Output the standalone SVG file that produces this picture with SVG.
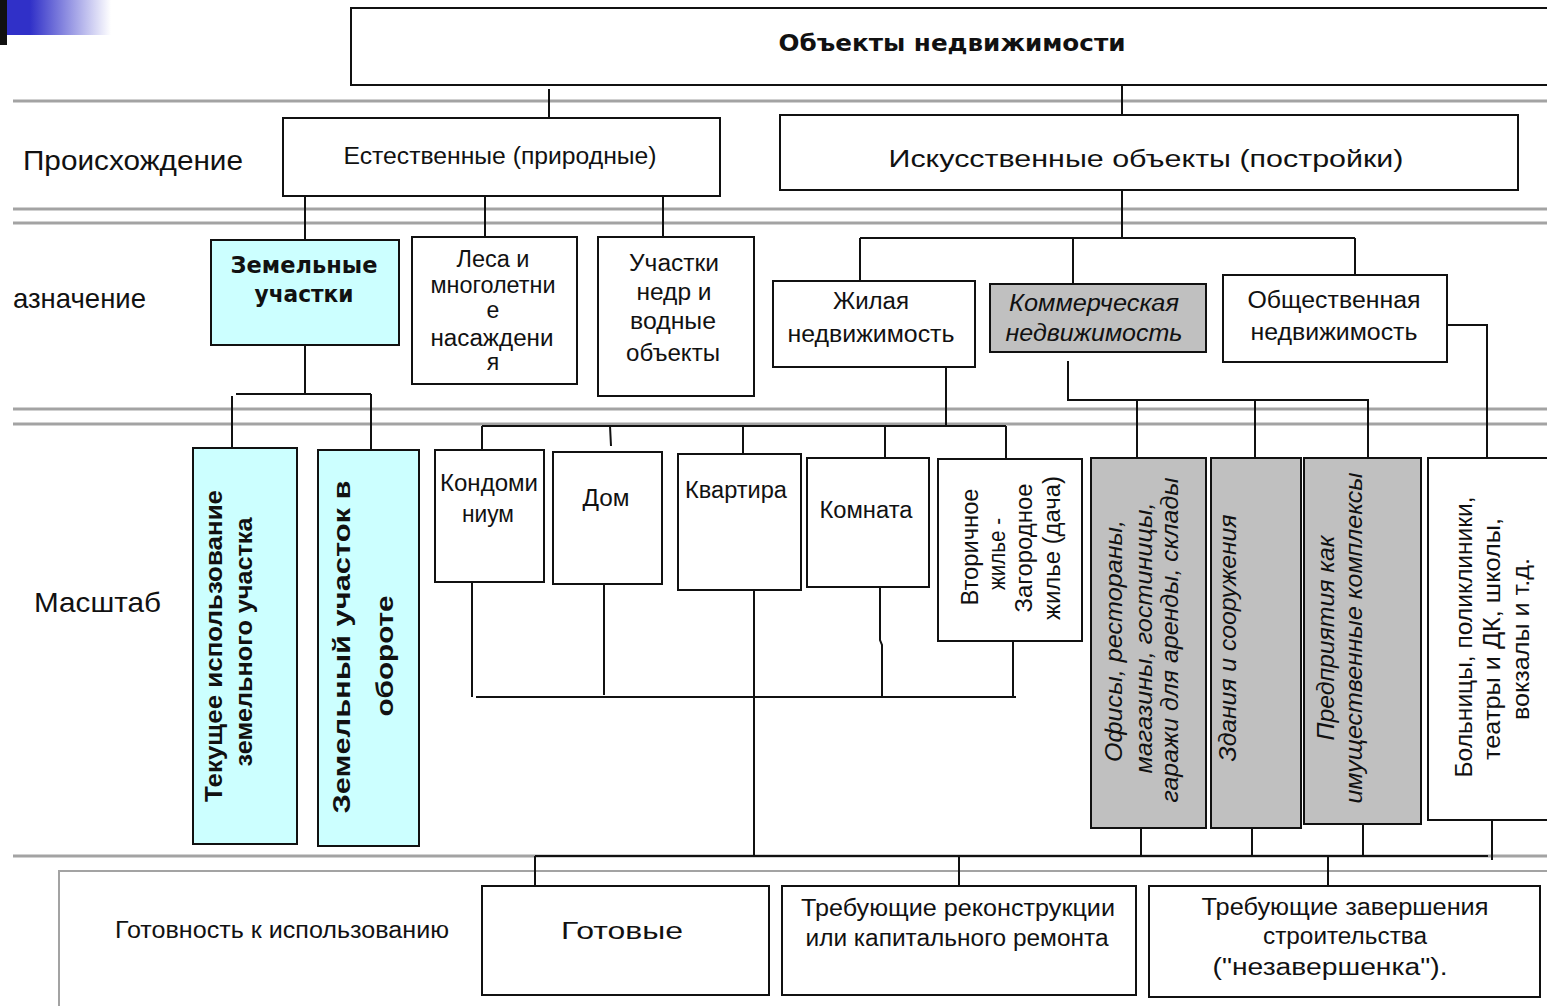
<svg xmlns="http://www.w3.org/2000/svg" width="1547" height="1006" viewBox="0 0 1547 1006">
<defs>
<linearGradient id="blueFade" x1="0" y1="0" x2="1" y2="0">
<stop offset="0" stop-color="#3030c8"/>
<stop offset="0.22" stop-color="#3030c8"/>
<stop offset="1" stop-color="#ffffff"/>
</linearGradient>
<style>
.box{fill:#fff;stroke:#111;stroke-width:2}
.cyan{fill:#ccffff}
.gray{fill:#c0c0c0}
.sep{stroke:#a3a3a3;stroke-width:3;fill:none}
.frame{stroke:#a3a3a3;stroke-width:2;fill:none}
.conn path{stroke:#111;stroke-width:2;fill:none}
.t{font-family:"Liberation Sans",Arial,sans-serif;font-size:23px;fill:#111;text-anchor:middle}
.lbl{font-size:28px;text-anchor:start}
.b{font-family:"DejaVu Sans",Verdana,sans-serif;font-weight:bold}
.ab{font-weight:bold}
.i{font-style:italic}
</style>
</defs>
<rect x="0" y="0" width="1547" height="1006" fill="#fff"/>
<!-- corner decoration -->
<rect x="7" y="0" width="104" height="35" fill="url(#blueFade)"/>
<rect x="0" y="0" width="7" height="45" fill="#111"/>

<!-- separator lines -->
<g id="separators">
<path class="sep" d="M13,101H1547M13,209H1547M13,223H1547M13,409H1547M13,424H1547M13,856H1547"/>
<path class="frame" d="M59,1006V871H1547"/>
</g>

<!-- row labels -->
<g id="labels">
<text class="t lbl" x="23" y="170" textLength="220" lengthAdjust="spacingAndGlyphs">Происхождение</text>
<text class="t lbl" x="13" y="308" textLength="133" lengthAdjust="spacingAndGlyphs">азначение</text>
<text class="t lbl" x="34" y="612" textLength="127" lengthAdjust="spacingAndGlyphs">Масштаб</text>
<text class="t" x="282" y="938" font-size="24" textLength="334" lengthAdjust="spacingAndGlyphs">Готовность к использованию</text>
</g>

<!-- connectors -->
<g id="connectors" class="conn">
<path d="M549,89V117"/>
<path d="M1122,85V115"/>
<path d="M305,196V240M485,196V237M663,196V237"/>
<path d="M1122,190V238M860,238H1355M860,238V282M1073,238V284M1355,238V275"/>
<path d="M305,345V394M236,394H371M232,396V448M371,394V450"/>
<path d="M946,366V426M482,426H1006M482,426V451M610,426L611,446M743,426V455M885,426V458M1006,426V459"/>
<path d="M472,582V697M604,584V695M754,590V856M880,587V640L882,645V697M1013,641V697M476,697H1016"/>
<path d="M1068,361V400H1368V458M1137,400V458M1255,400V458"/>
<path d="M1447,325H1487V458"/>
<path d="M535,856H1488M1141,828V856M1252,828V856M1363,824V856M1492,820V860"/>
<path d="M535,856V885M959,856V886M1328,856V886"/>
</g>

<!-- nodes -->
<g id="n-root">
<rect class="box" x="351" y="8" width="1215" height="77"/>
<text class="t b" x="952" y="51" font-size="24" textLength="347" lengthAdjust="spacingAndGlyphs">Объекты недвижимости</text>
</g>
<g id="n-natural">
<rect class="box" x="283" y="118" width="437" height="78"/>
<text class="t" x="500" y="164" font-size="24" textLength="313" lengthAdjust="spacingAndGlyphs">Естественные (природные)</text>
</g>
<g id="n-artificial">
<rect class="box" x="780" y="115" width="738" height="75"/>
<text class="t" x="1146" y="167" font-size="30" textLength="515" lengthAdjust="spacingAndGlyphs">Искусственные объекты (постройки)</text>
</g>

<g id="n-land">
<rect class="box cyan" x="211" y="240" width="188" height="105"/>
<text class="t b" x="304" y="273" font-size="21" textLength="147" lengthAdjust="spacingAndGlyphs">Земельные</text>
<text class="t b" x="304" y="302" font-size="21" textLength="99" lengthAdjust="spacingAndGlyphs">участки</text>
</g>
<g id="n-forest">
<rect class="box" x="412" y="237" width="165" height="147"/>
<text class="t" x="493" y="267" textLength="73" lengthAdjust="spacingAndGlyphs">Леса и</text>
<text class="t" x="493" y="293" textLength="125" lengthAdjust="spacingAndGlyphs">многолетни</text>
<text class="t" x="493" y="318">е</text>
<text class="t" x="492" y="346" textLength="123" lengthAdjust="spacingAndGlyphs">насаждени</text>
<text class="t" x="493" y="370">я</text>
</g>
<g id="n-subsoil">
<rect class="box" x="598" y="237" width="156" height="159"/>
<text class="t" x="674" y="271" textLength="90" lengthAdjust="spacingAndGlyphs">Участки</text>
<text class="t" x="674" y="300" textLength="75" lengthAdjust="spacingAndGlyphs">недр и</text>
<text class="t" x="673" y="329" textLength="86" lengthAdjust="spacingAndGlyphs">водные</text>
<text class="t" x="673" y="361" textLength="94" lengthAdjust="spacingAndGlyphs">объекты</text>
</g>
<g id="n-residential">
<rect class="box" x="773" y="281" width="202" height="86"/>
<text class="t" x="871" y="309" textLength="76" lengthAdjust="spacingAndGlyphs">Жилая</text>
<text class="t" x="871" y="342" textLength="167" lengthAdjust="spacingAndGlyphs">недвижимость</text>
</g>
<g id="n-commercial">
<rect class="box gray" x="990" y="284" width="216" height="68"/>
<text class="t i" x="1094" y="311" textLength="170" lengthAdjust="spacingAndGlyphs">Коммерческая</text>
<text class="t i" x="1094" y="341" textLength="177" lengthAdjust="spacingAndGlyphs">недвижимость</text>
</g>
<g id="n-public">
<rect class="box" x="1223" y="275" width="224" height="87"/>
<text class="t" x="1334" y="308" textLength="173" lengthAdjust="spacingAndGlyphs">Общественная</text>
<text class="t" x="1334" y="340" textLength="167" lengthAdjust="spacingAndGlyphs">недвижимость</text>
</g>

<g id="n-current-use">
<rect class="box cyan" x="193" y="448" width="104" height="396"/>
<text class="t ab" transform="translate(222,646) rotate(-90)" font-size="25" textLength="312" lengthAdjust="spacingAndGlyphs">Текущее использование</text>
<text class="t ab" transform="translate(252,642) rotate(-90)" font-size="25" textLength="249" lengthAdjust="spacingAndGlyphs">земельного участка</text>
</g>
<g id="n-land-turnover">
<rect class="box cyan" x="318" y="450" width="101" height="396"/>
<text class="t ab" transform="translate(350,647) rotate(-90)" font-size="30" textLength="333" lengthAdjust="spacingAndGlyphs">Земельный участок в</text>
<text class="t ab" transform="translate(393,656) rotate(-90)" font-size="30" textLength="121" lengthAdjust="spacingAndGlyphs">обороте</text>
</g>
<g id="n-condo">
<rect class="box" x="435" y="450" width="109" height="132"/>
<text class="t" x="489" y="491" textLength="98" lengthAdjust="spacingAndGlyphs">Кондоми</text>
<text class="t" x="488" y="522" textLength="52" lengthAdjust="spacingAndGlyphs">ниум</text>
</g>
<g id="n-house">
<rect class="box" x="553" y="452" width="109" height="132"/>
<text class="t" x="606" y="506" textLength="47" lengthAdjust="spacingAndGlyphs">Дом</text>
</g>
<g id="n-flat">
<rect class="box" x="678" y="454" width="123" height="136"/>
<text class="t" x="736" y="498" textLength="102" lengthAdjust="spacingAndGlyphs">Квартира</text>
</g>
<g id="n-room">
<rect class="box" x="807" y="458" width="122" height="129"/>
<text class="t" x="866" y="518" textLength="93" lengthAdjust="spacingAndGlyphs">Комната</text>
</g>
<g id="n-secondary">
<rect class="box" x="938" y="459" width="144" height="182"/>
<text class="t" transform="translate(978,547) rotate(-90)" textLength="117" lengthAdjust="spacingAndGlyphs">Вторичное</text>
<text class="t" transform="translate(1005,554) rotate(-90)" textLength="72" lengthAdjust="spacingAndGlyphs">жилье -</text>
<text class="t" transform="translate(1032,548) rotate(-90)" textLength="129" lengthAdjust="spacingAndGlyphs">Загородное</text>
<text class="t" transform="translate(1060,548) rotate(-90)" textLength="144" lengthAdjust="spacingAndGlyphs">жилье (дача)</text>
</g>
<g id="n-offices">
<rect class="box gray" x="1091" y="458" width="115" height="370"/>
<text class="t i" transform="translate(1122,641) rotate(-90)" textLength="242" lengthAdjust="spacingAndGlyphs">Офисы, рестораны,</text>
<text class="t i" transform="translate(1152,638) rotate(-90)" textLength="271" lengthAdjust="spacingAndGlyphs">магазины, гостиницы,</text>
<text class="t i" transform="translate(1178,640) rotate(-90)" textLength="325" lengthAdjust="spacingAndGlyphs">гаражи для аренды, склады</text>
</g>
<g id="n-buildings">
<rect class="box gray" x="1211" y="458" width="90" height="370"/>
<text class="t i" transform="translate(1236,638) rotate(-90)" textLength="247" lengthAdjust="spacingAndGlyphs">Здания и сооружения</text>
</g>
<g id="n-enterprises">
<rect class="box gray" x="1304" y="458" width="117" height="366"/>
<text class="t i" transform="translate(1334,638) rotate(-90)" textLength="205" lengthAdjust="spacingAndGlyphs">Предприятия как</text>
<text class="t i" transform="translate(1362,638) rotate(-90)" textLength="331" lengthAdjust="spacingAndGlyphs">имущественные комплексы</text>
</g>
<g id="n-hospitals">
<rect class="box" x="1428" y="458" width="140" height="362"/>
<text class="t" transform="translate(1472,637) rotate(-90)" textLength="281" lengthAdjust="spacingAndGlyphs">Больницы, поликлиники,</text>
<text class="t" transform="translate(1500,639) rotate(-90)" textLength="242" lengthAdjust="spacingAndGlyphs">театры и ДК, школы,</text>
<text class="t" transform="translate(1529,639) rotate(-90)" textLength="162" lengthAdjust="spacingAndGlyphs">вокзалы и т.д.</text>
</g>

<g id="n-ready">
<rect class="box" x="482" y="886" width="287" height="109"/>
<text class="t" x="622" y="939" font-size="31" textLength="122" lengthAdjust="spacingAndGlyphs">Готовые</text>
</g>
<g id="n-reconstruction">
<rect class="box" x="782" y="886" width="354" height="109"/>
<text class="t" x="958" y="916" textLength="314" lengthAdjust="spacingAndGlyphs">Требующие реконструкции</text>
<text class="t" x="957" y="946" textLength="303" lengthAdjust="spacingAndGlyphs">или капитального ремонта</text>
</g>
<g id="n-unfinished">
<rect class="box" x="1149" y="886" width="391" height="111"/>
<text class="t" x="1345" y="915" textLength="287" lengthAdjust="spacingAndGlyphs">Требующие завершения</text>
<text class="t" x="1345" y="944" textLength="164" lengthAdjust="spacingAndGlyphs">строительства</text>
<text class="t" x="1330" y="975" textLength="235" lengthAdjust="spacingAndGlyphs">("незавершенка").</text>
</g>
</svg>
